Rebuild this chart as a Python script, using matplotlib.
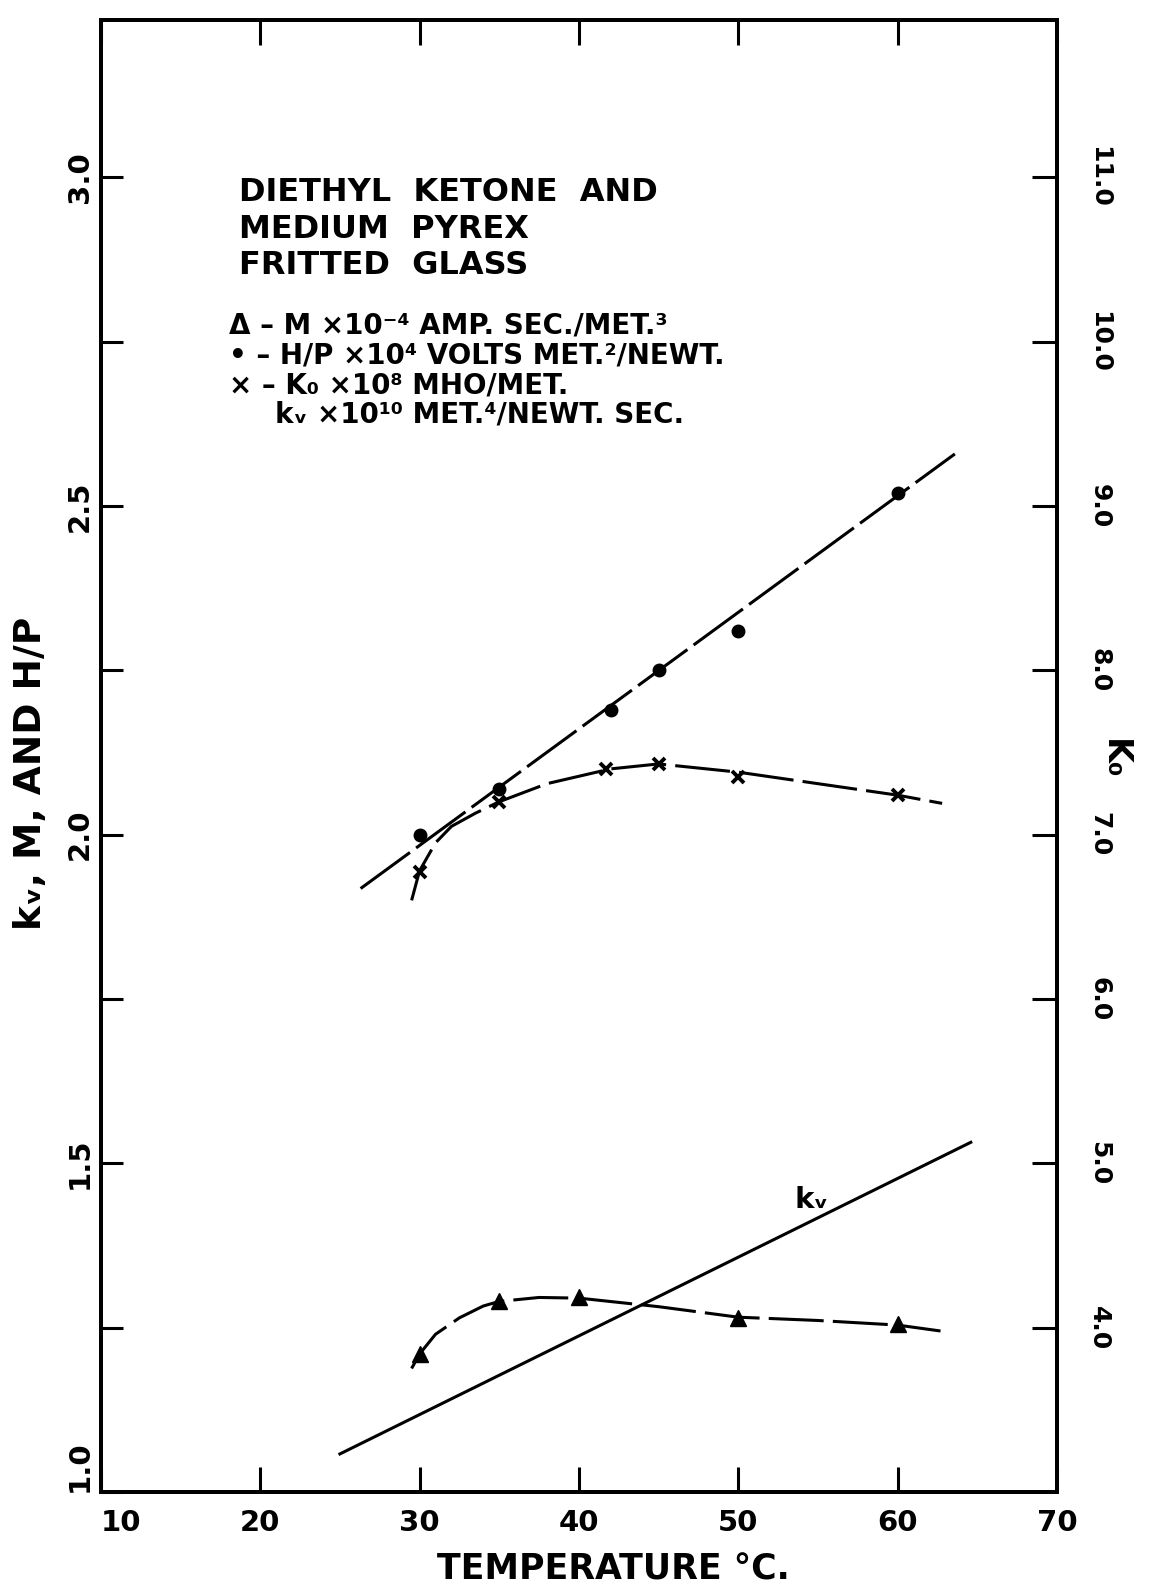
import matplotlib
matplotlib.use("Agg")
import matplotlib.pyplot as plt
from matplotlib.ticker import FixedLocator, FuncFormatter

plt.rcParams["font.family"] = ["DejaVu Sans"]
plt.rcParams["font.weight"] = "bold"

# H/P (left axis) -- dots and fitted straight line
temp_hp = [30, 35, 42, 45, 50, 60]
hp = [2.00, 2.07, 2.19, 2.25, 2.31, 2.52]
hp_line_t = [26.3, 63.6]
hp_line = [1.918, 2.579]

# K0 (right axis) -- crosses and hand-drawn curve
temp_k0 = [30, 35, 41.7, 45, 50, 60]
k0 = [6.77, 7.20, 7.40, 7.43, 7.35, 7.24]
k0_curve_t = [29.5, 30, 31, 32, 33.5, 35, 38, 42, 45, 50, 55, 60, 62.8]
k0_curve = [6.60, 6.78, 6.95, 7.05, 7.13, 7.20, 7.31, 7.40, 7.43, 7.38, 7.31, 7.24, 7.19]

# M (left axis) -- triangles and curve
temp_m = [30, 35, 40, 50, 60]
m = [1.21, 1.29, 1.296, 1.265, 1.256]
m_curve_t = [29.5, 30, 31, 32.5, 34, 35, 37.5, 40, 45, 50, 55, 60, 62.7]
m_curve = [1.188, 1.21, 1.24, 1.265, 1.283, 1.29, 1.296, 1.295, 1.282, 1.266, 1.261, 1.254, 1.245]

# kv (left axis) -- straight line
kv_t = [25.0, 64.6]
kv = [1.058, 1.532]

x_ticks = [10, 20, 30, 40, 50, 60, 70]
left_ticks = [1.0, 1.25, 1.5, 1.75, 2.0, 2.25, 2.5, 2.75, 3.0]
right_ticks = [4.0, 5.0, 6.0, 7.0, 8.0, 9.0, 10.0, 11.0]

fig = plt.figure(figsize=(11.55, 15.89), dpi=100)
ax = fig.add_axes([0.0874, 0.061, 0.8276, 0.9264])
ax2 = ax.twinx()

ax.set_xlim(10, 70)
ax.set_ylim(1.0, 3.239)
# right scale: K0 = 4 * left - 1
ax2.set_ylim(3.0, 4 * 3.239 - 1)

lw = 2.2
ax.plot(hp_line_t, hp_line, color="black", lw=lw, dashes=(20, 2.5))
ax.plot(temp_hp, hp, "o", color="black", ms=9)

ax2.plot(k0_curve_t, k0_curve, color="black", lw=lw, dashes=(18, 3))
ax2.plot(temp_k0, k0, "x", color="black", ms=9, mew=2.8)

ax.plot(m_curve_t, m_curve, color="black", lw=lw, dashes=(18, 3))
ax.plot(temp_m, m, "^", color="black", ms=12)

ax.plot(kv_t, kv, color="black", lw=lw)
ax.text(54.6, 1.445, "kᵥ", fontsize=21, ha="center", va="center")

# axes styling
for sp in list(ax.spines.values()) + list(ax2.spines.values()):
    sp.set_linewidth(2.8)

ax.xaxis.set_major_locator(FixedLocator(x_ticks))
ax.yaxis.set_major_locator(FixedLocator(left_ticks))
ax.yaxis.set_major_formatter(FuncFormatter(
    lambda v, p: f"{v:.1f}" if abs(v * 2 - round(v * 2)) < 1e-6 else ""))
ax2.yaxis.set_major_locator(FixedLocator(right_ticks))
ax2.yaxis.set_major_formatter(FuncFormatter(lambda v, p: f"{v:.1f}"))

ax.tick_params(axis="x", direction="in", length=18, width=2.2, top=True,
               labelsize=21, pad=12)
ax.tick_params(axis="y", direction="in", length=16, width=2.2, right=False,
               labelsize=21, labelrotation=90, pad=5)
ax2.tick_params(axis="y", direction="in", length=18, width=2.2,
                labelsize=18, labelrotation=-90, pad=22)
for t in ax.get_yticklabels():
    t.set_va("center")
ax.get_yticklabels()[0].set_va("bottom")
for t in ax2.get_yticklabels():
    t.set_va("center")

xl = ax.get_xticklabels()
xl[0].set_ha("left")

# annotation block
title_lines = ["DIETHYL  KETONE  AND", "MEDIUM  PYREX", "FRITTED  GLASS"]
for i, s in enumerate(title_lines):
    fig.text(0.207, 0.879 - i * 0.0232, s, fontsize=23, va="center")

legend_lines = [
    ("Δ – M ×10⁻⁴ AMP. SEC./MET.³", 0.198),
    ("• – H/P ×10⁴ VOLTS MET.²/NEWT.", 0.198),
    ("× – K₀ ×10⁸ MHO/MET.", 0.198),
    ("kᵥ ×10¹⁰ MET.⁴/NEWT. SEC.", 0.238),
]
for i, (s, x) in enumerate(legend_lines):
    fig.text(x, 0.795 - i * 0.0187, s, fontsize=20, va="center")

fig.text(0.531, 0.012, "TEMPERATURE °C.", fontsize=25, ha="center", va="center")
fig.text(0.027, 0.513, "kᵥ, M, AND H/P", fontsize=27, rotation=90,
         ha="center", va="center")
fig.text(0.965, 0.522, "K₀", fontsize=24, rotation=-90, ha="center", va="center")

fig.savefig("out.png", dpi=100, facecolor="white")
